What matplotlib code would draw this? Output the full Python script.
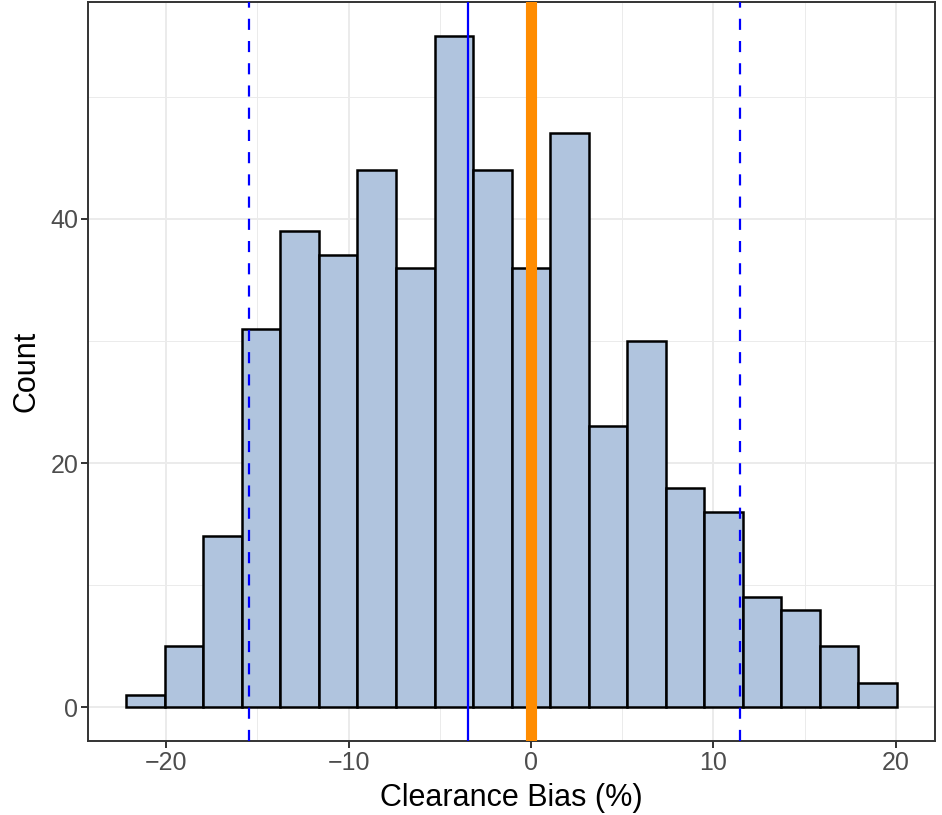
import numpy as np
import matplotlib
matplotlib.use("Agg")
import matplotlib.pyplot as plt
from matplotlib.ticker import MultipleLocator

# histogram counts, 20 equal bins
bin_start = -22.18
bin_end = 20.04
counts = [1, 5, 14, 31, 39, 37, 44, 36, 55, 44, 36, 47, 23, 30, 18, 16, 9, 8, 5, 2]

# reference lines
zero_line = 0.0
mean_bias = -3.45
limits = [-15.45, 11.45]

plt.rcParams['font.family'] = ['Liberation Sans', 'DejaVu Sans']

edges = np.linspace(bin_start, bin_end, len(counts) + 1)

fig = plt.figure(figsize=(9.42, 8.15), dpi=100)
ax = fig.add_axes([0.0934, 0.0908, 0.8992, 0.9067])

ax.hist(edges[:-1], bins=edges, weights=counts, facecolor='#B0C4DE',
        edgecolor='black', linewidth=1.8, zorder=2)

ax.axvline(zero_line, color='#FF8C00', linewidth=8, zorder=3)
ax.axvline(mean_bias, color='blue', linewidth=1.6, zorder=3)
for x in limits:
    ax.axvline(x, color='blue', linewidth=1.6, linestyle=(0, (5, 5)), zorder=3)

span = edges[-1] - edges[0]
ax.set_xlim(edges[0] - 0.05 * span, edges[-1] + 0.05 * span)
ymax = max(counts)
ax.set_ylim(-0.05 * ymax, 1.05 * ymax)

ax.xaxis.set_major_locator(MultipleLocator(10))
ax.xaxis.set_minor_locator(MultipleLocator(5))
ax.yaxis.set_major_locator(MultipleLocator(20))
ax.yaxis.set_minor_locator(MultipleLocator(10))
ax.set_xticks([-20, -10, 0, 10, 20])
ax.set_xticklabels(['\u221220', '\u221210', '0', '10', '20'])

ax.grid(which='major', color='#EBEBEB', linewidth=1.4, zorder=0)
ax.grid(which='minor', color='#EBEBEB', linewidth=0.7, zorder=0)
ax.set_axisbelow(True)

for s in ax.spines.values():
    s.set_color('#333333')
    s.set_linewidth(1.4)

ax.tick_params(which='major', length=5, width=1.4, color='#333333',
               labelsize=18, labelcolor='#4D4D4D', pad=2)
ax.tick_params(which='minor', length=0)

ax.set_xlabel('Clearance Bias (%)', fontsize=22, labelpad=6)
ax.set_ylabel('Count', fontsize=22, labelpad=6)

fig.savefig('out.png', dpi=100)
